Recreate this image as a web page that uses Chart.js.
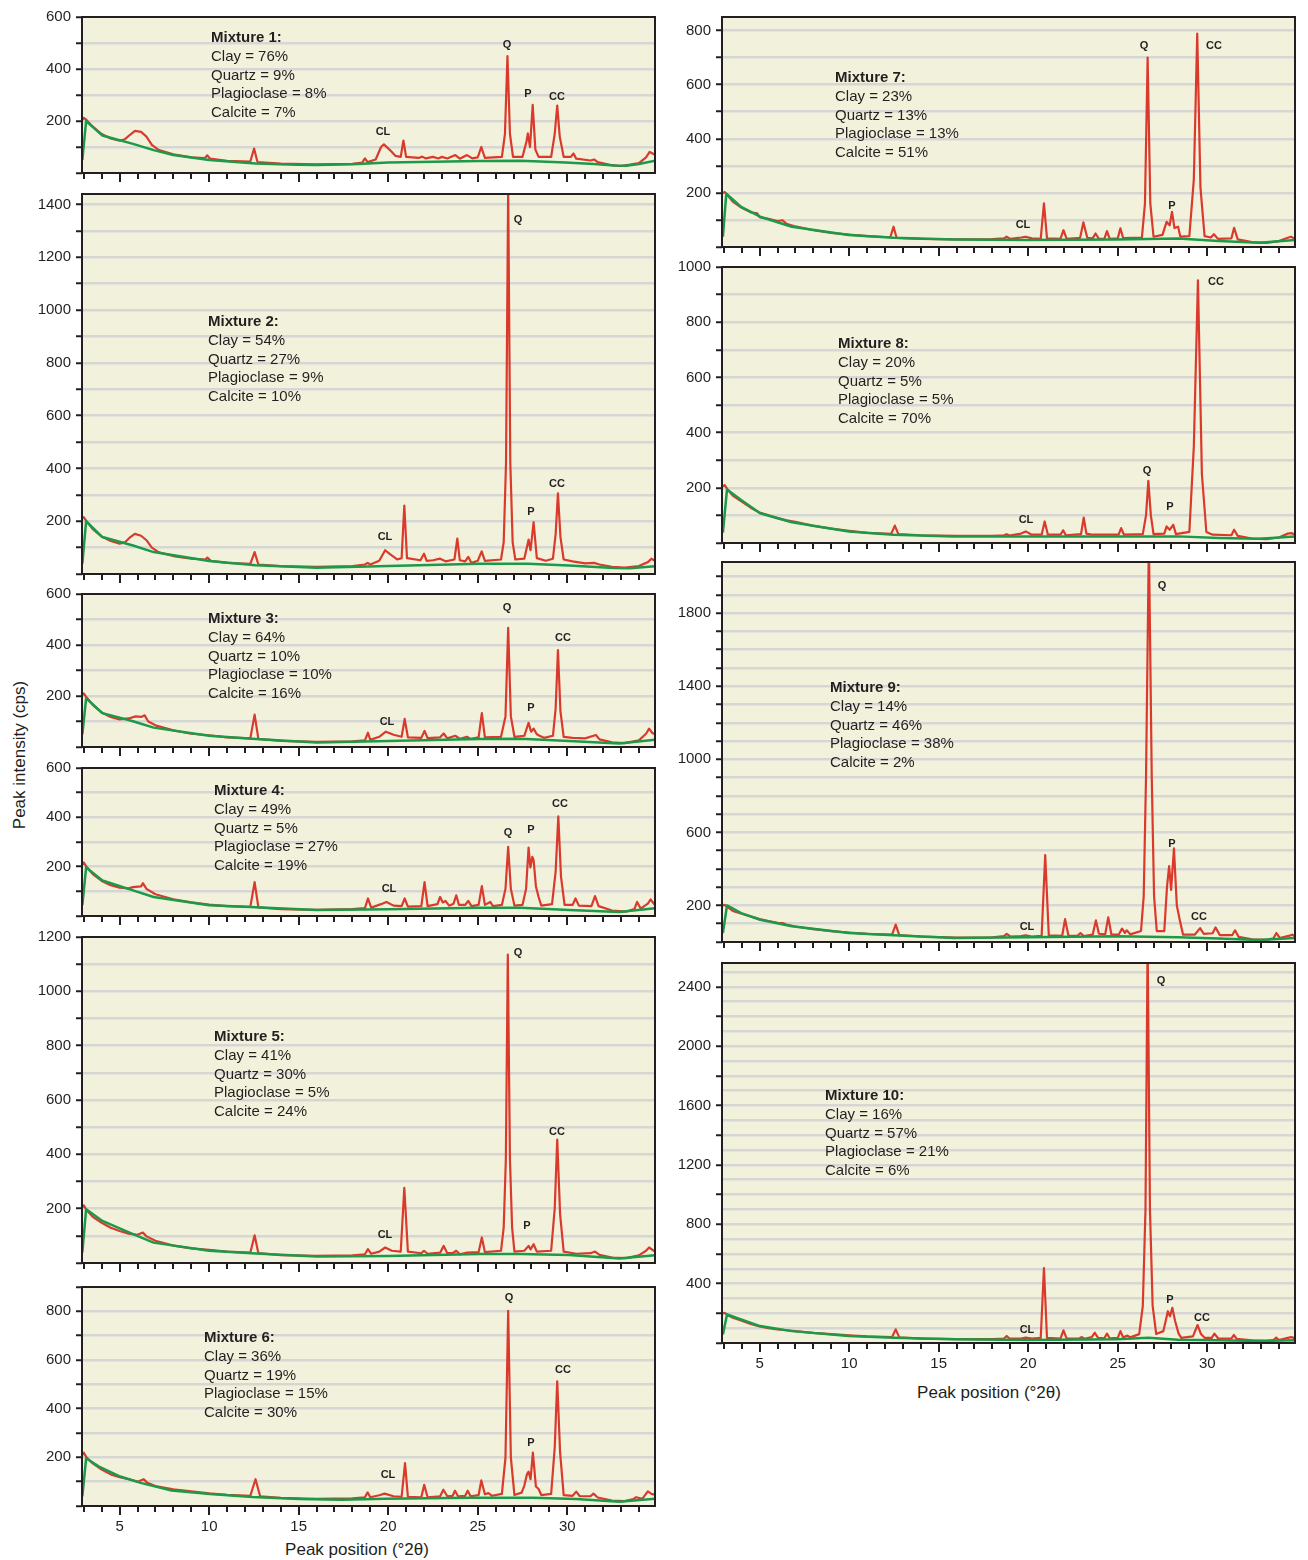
<!DOCTYPE html>
<html>
<head>
<meta charset="utf-8">
<script src="https://cdn.jsdelivr.net/npm/chart.js@4.4.0/dist/chart.umd.min.js"></script>
<style>
body { margin: 0; background: #fff; width: 1308px; height: 1560px; position: relative; overflow: hidden;
       font-family: "Liberation Sans", Arial, sans-serif; color: #231f20; }
canvas { position: absolute; }
.axis-title { position: absolute; font-size: 17px; white-space: nowrap; transform: translate(-50%, -50%); }
</style>
</head>
<body>
<div class="axis-title" style="left:357px; top:1550px">Peak position (°2θ)</div>
<div class="axis-title" style="left:989px; top:1393px">Peak position (°2θ)</div>
<div class="axis-title" style="left:20px; top:755px; transform:translate(-50%,-50%) rotate(-90deg)">Peak intensity (cps)</div>
<script>
const mix1Pattern = [[2.92,205],[3.0,212],[3.15,204],[3.5,178],[4.0,150],[4.5,133],[5.0,124],[5.3,130],[5.6,148],[5.86,162],[6.2,158],[6.5,140],[6.8,108],[7.2,88],[8.0,72],[9.0,60],[9.75,57],[9.9,68],[10.05,55],[11.0,47],[12.3,44],[12.51,94],[12.7,42],[14.0,36],[16.0,33],[18.0,35],[18.55,40],[18.7,56],[18.85,42],[19.3,52],[19.6,100],[19.76,110],[20.1,88],[20.4,66],[20.7,62],[20.85,125],[21.0,62],[21.7,58],[21.9,63],[22.1,56],[22.5,62],[22.8,56],[23.0,62],[23.3,56],[23.75,69],[24.0,55],[24.4,69],[24.7,56],[25.0,60],[25.2,100],[25.4,58],[26.35,62],[26.52,150],[26.66,450],[26.8,150],[26.97,62],[27.5,62],[27.72,120],[27.8,152],[27.92,100],[28.07,262],[28.22,90],[28.4,62],[29.1,62],[29.3,150],[29.44,259],[29.58,140],[29.8,62],[30.2,62],[30.35,75],[30.5,55],[31.3,48],[31.5,52],[31.7,42],[32.5,30],[33.0,27],[33.5,32],[34.0,38],[34.4,60],[34.6,81],[34.9,70]];
const mix2Pattern = [[2.92,212],[3.0,215],[3.15,200],[3.5,170],[4.0,142],[4.5,125],[5.0,115],[5.3,120],[5.6,140],[5.85,152],[6.2,145],[6.5,128],[6.8,100],[7.2,82],[8.0,68],[9.0,58],[9.8,55],[9.9,62],[10.1,50],[11.0,42],[12.3,38],[12.54,83],[12.75,36],[14.0,30],[16.0,27],[18.0,30],[18.7,36],[18.85,42],[19.0,36],[19.5,50],[19.83,90],[20.1,75],[20.5,55],[20.75,60],[20.9,259],[21.05,60],[21.8,52],[22.0,77],[22.15,50],[22.5,52],[22.9,58],[23.2,48],[23.7,55],[23.86,134],[24.0,52],[24.3,48],[24.47,65],[24.65,42],[25.0,50],[25.22,86],[25.4,50],[26.3,55],[26.45,120],[26.58,420],[26.7,1460],[26.82,420],[26.95,120],[27.1,55],[27.6,58],[27.84,130],[27.95,90],[28.12,197],[28.3,60],[28.8,50],[29.2,58],[29.35,150],[29.48,306],[29.62,140],[29.8,55],[30.3,48],[31.0,40],[31.5,42],[31.8,36],[32.5,27],[33.2,24],[34.0,30],[34.5,45],[34.7,58],[34.9,50]];
const mix3Pattern = [[2.92,205],[3.0,210],[3.15,195],[3.5,165],[4.0,135],[4.5,118],[5.0,108],[5.5,112],[5.9,120],[6.2,118],[6.4,124],[6.6,100],[7.0,85],[8.0,65],[9.0,52],[10.0,46],[11.0,38],[12.3,34],[12.54,127],[12.75,32],[14.0,24],[16.0,20],[18.0,22],[18.7,26],[18.87,56],[19.0,28],[19.5,40],[19.87,60],[20.3,48],[20.75,40],[20.92,110],[21.1,38],[21.85,36],[22.03,63],[22.2,35],[22.9,38],[23.1,53],[23.3,34],[23.75,44],[24.0,32],[24.4,40],[24.6,32],[25.05,38],[25.23,133],[25.4,38],[26.3,40],[26.55,120],[26.7,467],[26.85,120],[27.05,40],[27.6,44],[27.84,95],[27.98,60],[28.12,72],[28.3,50],[28.45,44],[28.7,36],[29.2,44],[29.35,150],[29.48,380],[29.62,140],[29.8,40],[30.3,36],[31.0,34],[31.6,47],[31.8,30],[32.5,18],[33.2,15],[34.0,26],[34.4,52],[34.57,72],[34.75,55],[34.9,50]];
const mix4Pattern = [[2.92,210],[3.0,217],[3.15,200],[3.5,170],[4.0,142],[4.5,125],[5.0,115],[5.5,112],[5.75,117],[6.2,120],[6.3,133],[6.5,110],[7.0,88],[8.0,68],[9.0,55],[10.0,46],[11.0,40],[12.3,37],[12.54,137],[12.75,35],[14.0,28],[16.0,25],[18.0,28],[18.7,32],[18.87,71],[19.05,34],[19.6,48],[19.9,57],[20.3,42],[20.75,40],[20.92,71],[21.1,38],[21.85,40],[22.03,137],[22.2,40],[22.75,48],[22.9,77],[23.05,55],[23.2,61],[23.4,42],[23.65,50],[23.8,84],[23.95,45],[24.3,45],[24.47,61],[24.65,40],[25.05,45],[25.23,121],[25.4,45],[25.7,57],[25.85,40],[26.35,45],[26.55,110],[26.7,280],[26.85,110],[27.05,42],[27.5,45],[27.7,110],[27.84,277],[27.94,197],[28.05,240],[28.12,227],[28.25,120],[28.4,77],[28.55,42],[29.15,48],[29.35,180],[29.5,404],[29.65,160],[29.85,45],[30.3,45],[30.46,71],[30.65,42],[31.35,40],[31.55,81],[31.75,40],[32.5,22],[33.3,18],[33.75,28],[33.9,57],[34.1,30],[34.5,50],[34.65,67],[34.9,44]];
const mix5Pattern = [[2.92,205],[3.0,212],[3.15,195],[3.5,170],[4.0,148],[4.5,130],[5.0,118],[5.5,108],[6.0,104],[6.3,112],[6.5,98],[7.0,82],[8.0,64],[9.0,54],[10.0,48],[11.0,42],[12.3,38],[12.54,102],[12.75,36],[14.0,29],[16.0,26],[18.0,28],[18.7,32],[18.87,51],[19.05,34],[19.5,42],[19.83,57],[20.2,45],[20.7,42],[20.9,277],[21.1,42],[21.85,36],[22.0,45],[22.2,34],[22.9,38],[23.1,63],[23.3,36],[23.6,36],[23.8,45],[24.0,32],[24.4,38],[25.05,40],[25.23,94],[25.4,40],[26.3,45],[26.45,130],[26.57,380],[26.68,1135],[26.8,380],[26.92,130],[27.05,42],[27.6,45],[27.84,63],[27.95,50],[28.12,69],[28.3,42],[29.1,45],[29.3,200],[29.44,454],[29.6,180],[29.8,42],[30.5,34],[31.3,36],[31.55,42],[31.8,30],[32.5,20],[33.3,18],[34.0,28],[34.4,45],[34.57,57],[34.9,42]];
const mix6Pattern = [[2.92,210],[3.0,219],[3.15,200],[3.5,175],[4.0,150],[4.5,130],[5.0,118],[5.5,110],[6.0,100],[6.35,110],[6.55,95],[7.0,82],[8.0,68],[9.0,60],[10.0,52],[11.0,46],[12.3,42],[12.59,110],[12.85,40],[14.0,33],[16.0,29],[18.0,31],[18.7,36],[18.85,56],[19.0,36],[19.5,44],[19.8,51],[20.3,40],[20.75,38],[20.94,176],[21.1,38],[21.85,36],[22.01,87],[22.2,36],[22.9,40],[23.08,67],[23.3,40],[23.6,42],[23.73,63],[23.9,40],[24.3,42],[24.44,63],[24.6,40],[25.05,45],[25.2,105],[25.4,48],[25.6,53],[25.8,42],[26.35,50],[26.55,200],[26.7,802],[26.85,200],[27.05,45],[27.45,55],[27.6,83],[27.75,130],[27.84,141],[27.95,110],[28.08,219],[28.25,80],[28.4,70],[28.55,45],[29.1,50],[29.3,240],[29.44,512],[29.6,220],[29.8,45],[30.3,42],[30.5,59],[30.7,40],[31.3,40],[31.46,51],[31.7,35],[32.5,22],[33.2,20],[33.7,28],[33.84,36],[34.2,30],[34.5,60],[34.7,50],[34.9,47]];
const mix7Pattern = [[2.95,200],[3.05,203],[3.2,192],[3.5,168],[4.0,145],[4.5,128],[4.87,124],[5.0,110],[5.5,104],[6.0,96],[6.28,99],[6.5,86],[7.0,76],[8.0,62],[9.0,52],[10.0,46],[11.0,40],[12.3,36],[12.48,75],[12.65,34],[14.0,30],[16.0,28],[18.0,29],[18.65,32],[18.79,38],[19.0,30],[19.6,35],[19.86,38],[20.2,32],[20.7,30],[20.88,161],[21.05,32],[21.8,30],[21.97,62],[22.15,30],[22.9,34],[23.08,91],[23.3,34],[23.6,32],[23.76,50],[23.95,30],[24.25,30],[24.4,59],[24.55,30],[25.0,32],[25.15,69],[25.3,33],[26.35,35],[26.52,160],[26.67,700],[26.82,160],[27.0,38],[27.5,45],[27.73,93],[27.9,80],[28.03,130],[28.17,70],[28.37,75],[28.5,38],[29.0,40],[29.25,250],[29.44,789],[29.62,220],[29.85,40],[30.2,35],[30.37,47],[30.6,30],[31.35,32],[31.5,71],[31.7,28],[32.5,18],[33.3,15],[34.0,22],[34.5,34],[34.68,38],[34.9,30]];
const mix8Pattern = [[2.95,205],[3.05,210],[3.2,195],[3.5,172],[4.0,150],[4.5,128],[5.0,110],[5.5,100],[6.0,90],[6.5,82],[7.0,77],[8.0,62],[9.0,52],[10.0,44],[11.0,37],[12.35,33],[12.55,63],[12.75,32],[14.0,28],[16.0,26],[18.0,26],[18.65,28],[18.8,32],[18.95,27],[19.6,34],[19.86,42],[20.2,30],[20.75,30],[20.92,78],[21.1,30],[21.8,30],[21.95,46],[22.1,28],[22.95,32],[23.1,92],[23.25,34],[23.6,30],[24.4,30],[25.05,30],[25.19,54],[25.35,30],[26.4,32],[26.58,100],[26.71,225],[26.85,100],[27.0,32],[27.6,34],[27.73,60],[27.9,48],[28.1,66],[28.25,32],[29.0,40],[29.25,350],[29.48,952],[29.7,250],[29.95,40],[30.3,30],[31.35,28],[31.5,48],[31.7,26],[32.5,16],[33.3,14],[34.0,20],[34.5,34],[34.7,36],[34.9,30]];
const mix9Pattern = [[2.95,200],[3.05,203],[3.2,192],[3.5,170],[4.0,155],[4.5,140],[5.0,125],[5.5,115],[6.0,105],[6.3,104],[6.5,95],[7.0,85],[8.0,70],[9.0,60],[10.0,52],[11.0,44],[12.4,40],[12.6,95],[12.8,38],[14.0,30],[16.0,24],[18.0,26],[18.65,32],[18.8,44],[19.0,30],[19.6,32],[19.86,37],[20.2,30],[20.75,34],[20.95,476],[21.15,36],[21.9,34],[22.06,125],[22.25,34],[22.75,34],[22.92,49],[23.1,32],[23.6,40],[23.78,118],[23.95,45],[24.3,42],[24.47,135],[24.65,40],[25.05,40],[25.24,73],[25.4,50],[25.5,64],[25.7,42],[26.3,60],[26.45,250],[26.58,900],[26.74,2200],[26.9,900],[27.03,250],[27.18,60],[27.6,60],[27.75,300],[27.87,416],[27.98,285],[28.14,512],[28.3,200],[28.48,113],[28.65,40],[29.3,40],[29.6,76],[29.8,45],[30.3,48],[30.46,80],[30.7,38],[31.4,38],[31.55,64],[31.75,28],[32.5,15],[33.3,12],[33.7,20],[33.86,49],[34.05,22],[34.6,35],[34.75,40],[34.9,30]];
const mix10Pattern = [[2.95,200],[3.05,203],[3.2,190],[3.5,170],[4.0,150],[4.5,128],[5.0,112],[5.5,100],[6.0,92],[6.5,86],[7.0,80],[8.0,68],[9.0,60],[10.0,52],[11.0,45],[12.4,40],[12.6,92],[12.8,38],[14.0,30],[16.0,26],[18.0,26],[18.65,30],[18.8,47],[18.95,30],[19.6,30],[19.86,36],[20.2,30],[20.7,34],[20.88,505],[21.05,34],[21.8,30],[21.97,85],[22.15,30],[22.85,30],[23.0,40],[23.15,28],[23.55,40],[23.72,69],[23.9,35],[24.25,32],[24.4,63],[24.55,32],[25.0,35],[25.15,80],[25.3,38],[25.55,50],[25.7,38],[26.2,60],[26.4,250],[26.55,900],[26.67,2700],[26.8,900],[26.95,250],[27.15,60],[27.55,80],[27.8,214],[27.92,180],[28.05,237],[28.2,150],[28.4,63],[28.55,35],[29.2,45],[29.46,121],[29.65,60],[29.85,35],[30.25,35],[30.4,63],[30.6,32],[31.35,30],[31.48,54],[31.65,28],[32.5,18],[33.3,14],[33.7,20],[33.85,36],[34.0,20],[34.5,35],[34.7,40],[34.9,30]];

// fitted backgrounds [2theta, cps]
const mix1Background = [[2.92,50],[3.13,200],[4.04,144],[5.75,112],[6.9,88],[8.0,69],[10.0,50],[12.6,37],[14.9,32],[16.0,31],[18.0,34],[20.0,40],[25.1,46],[27.4,47],[29.9,40],[31.5,35],[32.6,29],[33.3,28],[34.0,35],[34.9,47]];
const mix2Background = [[2.92,39],[3.13,200],[4.04,140],[5.75,108],[6.9,83],[10.0,49],[12.6,33],[16.0,24],[20.0,30],[25.1,39],[27.8,39],[30.1,32],[32.6,23],[33.5,22],[34.9,29]];
const mix3Background = [[2.92,50],[3.13,191],[4.04,133],[5.75,101],[6.9,76],[10.0,44],[12.6,31],[16.0,18],[20.0,24],[25.1,31],[27.4,32],[30.1,24],[32.9,14],[34.9,28]];
const mix4Background = [[2.92,44],[3.13,197],[4.04,144],[5.75,104],[6.9,77],[10.0,44],[12.6,35],[16.0,24],[20.0,27],[25.1,33],[27.4,33],[30.1,24],[32.9,16],[34.9,31]];
const mix5Background = [[2.92,39],[3.13,198],[4.04,155],[5.75,106],[6.9,75],[10.0,45],[12.6,35],[16.0,24],[20.0,26],[25.1,33],[27.4,33],[30.1,29],[32.9,17],[34.9,29]];
const mix6Background = [[2.92,40],[3.13,196],[3.85,162],[5.04,121],[6.23,94],[7.9,64],[10.04,49],[12.42,37],[15.04,29],[17.4,26],[19.8,30],[24.56,34],[28.1,34],[30.5,29],[32.9,17],[34.9,30]];
const mix7Background = [[2.95,38],[3.14,197],[3.97,148],[5.03,112],[6.8,75],[9.98,44],[12.48,34],[15.88,28],[19.97,26],[24.96,28],[28.37,31],[30.64,22],[32.9,16],[34.9,26]];
const mix8Background = [[2.95,38],[3.18,194],[3.97,156],[5.03,108],[6.8,75],[9.98,42],[12.48,30],[15.88,24],[19.97,24],[24.96,24],[28.37,24],[30.64,18],[32.9,15],[34.9,24]];
const mix9Background = [[2.95,49],[3.18,200],[3.97,158],[5.03,122],[6.8,86],[9.98,49],[12.48,37],[15.88,22],[19.97,26],[24.96,31],[28.37,26],[30.64,19],[32.9,11],[34.9,22]];
const mix10Background = [[2.95,58],[3.18,192],[3.97,158],[5.03,114],[6.8,80],[9.98,47],[12.48,36],[15.88,25],[19.97,20],[24.96,25],[26.7,36],[28.37,22],[30.64,18],[32.9,14],[34.9,18]];

// composition (%)
const clay        = [76, 54, 64, 49, 41, 36, 23, 20, 14, 16];
const quartz      = [9, 27, 10, 5, 30, 19, 13, 5, 46, 57];
const plagioclase = [8, 9, 10, 27, 5, 15, 13, 5, 38, 21];
const calcite     = [7, 10, 16, 19, 24, 30, 51, 70, 2, 6];

// axes
const yMax        = [600, 1440, 600, 600, 1200, 900, 850, 1000, 2080, 2560];
const yLabelFirst = [200, 200, 200, 200, 200, 200, 200, 200, 200, 400];
const yLabelStep  = [200, 200, 200, 200, 200, 200, 200, 200, 400, 400];
const yTickStep   = [100, 100, 100, 100, 100, 100, 100, 100, 100, 200];
const xTicksMajor = [5, 10, 15, 20, 25, 30];
const peakNames   = ['Q', 'P', 'CC', 'CL'];

const patterns = [mix1Pattern, mix2Pattern, mix3Pattern, mix4Pattern, mix5Pattern,
                  mix6Pattern, mix7Pattern, mix8Pattern, mix9Pattern, mix10Pattern];
const backgrounds = [mix1Background, mix2Background, mix3Background, mix4Background, mix5Background,
                     mix6Background, mix7Background, mix8Background, mix9Background, mix10Background];

// ---- layout (pixels) ----
const INK = '#231f20', PLOT_BG = '#f2f2dc', GRID = '#d6d6d4', RED = '#da3a2c', GREEN = '#1b9a4a';
const FONT = '"Liberation Sans", Arial, sans-serif';
const boxes = [
  [82, 15, 573, 158], [82, 192, 573, 382], [82, 592, 573, 155], [82, 766, 573, 150],
  [82, 935, 573, 328], [82, 1285, 573, 221],
  [722, 15, 573, 232], [722, 265, 573, 278], [722, 560, 573, 382], [722, 961, 573, 382]
];
const textPos = [[129,21],[126,128],[126,25],[132,23],[132,100],[122,51],[113,61],[116,77],[108,126],[103,133]];
// Q, P, CC, CL label centres relative to plot corner
const peakPos = [
  [[425,28],[446,77],[475,80],[301,115]],
  [[436,26],[449,318],[475,290],[303,343]],
  [[425,14],[449,114],[481,44],[305,128]],
  [[426,65],[449,62],[478,36],[307,121]],
  [[436,16],[445,289],[475,195],[303,298]],
  [[427,11],[449,156],[481,83],[306,188]],
  [[422,29],[450,189],[492,29],[301,208]],
  [[425,204],[448,240],[494,15],[304,253]],
  [[440,24],[450,282],[477,355],[305,365]],
  [[439,18],[448,337],[480,355],[305,367]]
];
const bottomPanels = [5, 9];

const panelDecor = {
  id: 'panelDecor',
  beforeDraw(chart) {
    const a = chart.chartArea, ctx = chart.ctx;
    ctx.save();
    ctx.fillStyle = PLOT_BG;
    ctx.fillRect(a.left, a.top, a.right - a.left, a.bottom - a.top);
    ctx.restore();
  },
  afterDraw(chart, args, opts) {
    const i = opts.index;
    const a = chart.chartArea, ctx = chart.ctx, xs = chart.scales.x;
    ctx.save();
    ctx.strokeStyle = INK;
    ctx.lineWidth = 2;
    ctx.strokeRect(a.left, a.top, a.right - a.left, a.bottom - a.top);
    // x tick marks every degree, longer on the labelled ones
    ctx.beginPath();
    for (let v = Math.ceil(xs.min); v <= Math.floor(xs.max); v++) {
      const px = Math.round(xs.getPixelForValue(v));
      ctx.moveTo(px, a.bottom);
      ctx.lineTo(px, a.bottom + (xTicksMajor.includes(v) ? 9 : 6));
    }
    ctx.stroke();

    ctx.fillStyle = INK;
    ctx.textBaseline = 'middle';
    ctx.textAlign = 'left';
    const [tx, ty] = textPos[i];
    ctx.font = 'bold 15px ' + FONT;
    ctx.fillText('Mixture ' + (i + 1) + ':', a.left + tx, a.top + ty);
    ctx.font = '15px ' + FONT;
    const lines = ['Clay = ' + clay[i] + '%', 'Quartz = ' + quartz[i] + '%',
                   'Plagioclase = ' + plagioclase[i] + '%', 'Calcite = ' + calcite[i] + '%'];
    lines.forEach((s, k) => ctx.fillText(s, a.left + tx, a.top + ty + (k + 1) * 18.7));

    ctx.font = 'bold 11px ' + FONT;
    ctx.textAlign = 'center';
    peakNames.forEach((name, k) => {
      const [px, py] = peakPos[i][k];
      ctx.fillText(name, a.left + px, a.top + py);
    });
    ctx.restore();
  }
};

function makePanel(i) {
  const [left, top, w, h] = boxes[i];
  const isBottom = bottomPanels.includes(i);
  const axisH = isBottom ? 34 : 14;
  const yW = 62, padT = 12, padR = 14;
  const canvas = document.createElement('canvas');
  canvas.width = yW + w + padR;
  canvas.height = padT + h + axisH;
  canvas.style.left = (left - yW) + 'px';
  canvas.style.top = (top - padT) + 'px';
  document.body.appendChild(canvas);

  new Chart(canvas, {
    type: 'line',
    data: {
      datasets: [
        { data: backgrounds[i], borderColor: GREEN, borderWidth: 2.5, order: 1 },
        { data: patterns[i], borderColor: RED, borderWidth: 2.2, order: 2 }
      ].map(d => ({ ...d, pointRadius: 0, tension: 0, fill: false, borderJoinStyle: 'round' }))
    },
    options: {
      responsive: false,
      devicePixelRatio: 1,
      animation: false,
      events: [],
      layout: { padding: { top: padT, right: padR, left: 0, bottom: 0 } },
      scales: {
        x: {
          type: 'linear', min: 2.9, max: 34.9,
          afterFit: s => { s.height = axisH; },
          afterBuildTicks: s => { s.ticks = xTicksMajor.map(v => ({ value: v })); },
          grid: { display: false, drawTicks: false },
          border: { display: false },
          ticks: {
            autoSkip: false, maxRotation: 0, padding: 12,
            color: INK, font: { family: FONT, size: 15 },
            callback: v => isBottom ? String(v) : ''
          }
        },
        y: {
          min: 0, max: yMax[i],
          afterFit: s => { s.width = yW; },
          border: { display: false },
          grid: {
            color: c => (c.tick && c.tick.value > 0 && c.tick.value < yMax[i]) ? GRID : 'rgba(0,0,0,0)',
            lineWidth: 2.5,
            tickColor: c => (c.tick && c.tick.value % yTickStep[i] === 0) ? INK : 'rgba(0,0,0,0)',
            tickWidth: 2,
            tickLength: 6
          },
          ticks: {
            stepSize: 100, autoSkip: false, includeBounds: false, padding: 5,
            color: INK, font: { family: FONT, size: 15 },
            callback: v => (v >= yLabelFirst[i] && (v - yLabelFirst[i]) % yLabelStep[i] === 0) ? String(v) : ''
          }
        }
      },
      plugins: {
        legend: { display: false },
        tooltip: { enabled: false },
        panelDecor: { index: i }
      }
    },
    plugins: [panelDecor]
  });
}

for (let i = 0; i < 10; i++) makePanel(i);
</script>
</body>
</html>
